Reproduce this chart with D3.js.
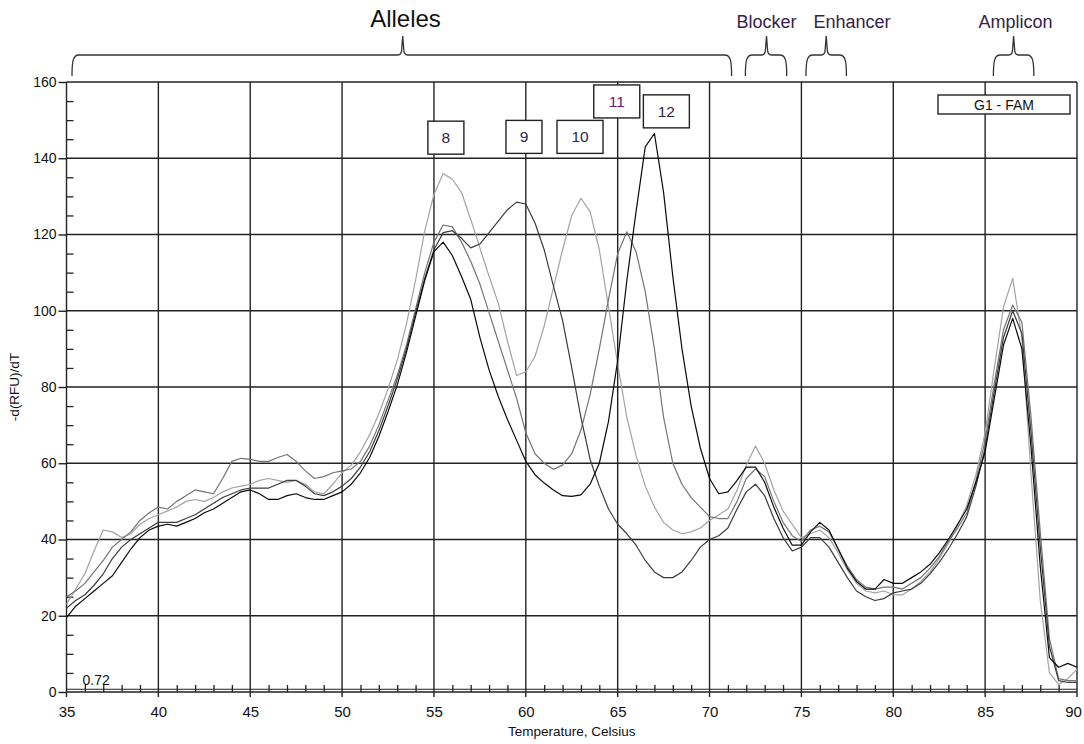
<!DOCTYPE html>
<html>
<head>
<meta charset="utf-8">
<script src="https://cdn.jsdelivr.net/npm/d3@7"></script>
<style>
  body { margin: 0; background: #fff; }
  svg { display: block; font-family: "Liberation Sans", Arial, sans-serif; }
</style>
</head>
<body>
<svg width="1084" height="744"></svg>
<script>
// melt steps, Celsius
const temps = [
  35, 35.5, 36, 36.5, 37, 37.5, 38, 38.5, 39, 39.5,
  40, 40.5, 41, 41.5, 42, 42.5, 43, 43.5, 44, 44.5,
  45, 45.5, 46, 46.5, 47, 47.5, 48, 48.5, 49, 49.5,
  50, 50.5, 51, 51.5, 52, 52.5, 53, 53.5, 54, 54.5,
  55, 55.5, 56, 56.5, 57, 57.5, 58, 58.5, 59, 59.5,
  60, 60.5, 61, 61.5, 62, 62.5, 63, 63.5, 64, 64.5,
  65, 65.5, 66, 66.5, 67, 67.5, 68, 68.5, 69, 69.5,
  70, 70.5, 71, 71.5, 72, 72.5, 73, 73.5, 74, 74.5,
  75, 75.5, 76, 76.5, 77, 77.5, 78, 78.5, 79, 79.5,
  80, 80.5, 81, 81.5, 82, 82.5, 83, 83.5, 84, 84.5,
  85, 85.5, 86, 86.5, 87, 87.5, 88, 88.5, 89, 89.5,
  90,
];

// -d(RFU)/dT for each sample (alleles 8/12, 8/9, 8/10, 8/11)
const sample8_12 = [
  19.5, 22.5, 24.5, 26.5, 28.5, 30.5, 34, 37.5, 40.5, 42.5,
  43.5, 44, 43.5, 44.5, 45.5, 47, 48, 49.5, 51, 52.5,
  53, 52, 50.5, 50.5, 51.5, 52, 51, 50.5, 50.5, 51.5,
  52.5, 54.5, 57.5, 61.5, 67, 73.5, 80.5, 89, 98.5, 108,
  115.5, 118, 114.5, 109, 103, 93, 84.5, 77.5, 71.5, 66,
  60.5, 57, 54.8, 53, 51.5, 51.3, 51.7, 54.5, 60, 71,
  87, 108, 126, 143, 146.5, 131, 109, 90, 75, 64,
  56, 52, 52.5, 55.5, 59, 59, 55, 48.5, 43, 38.5,
  38.5, 42, 44.5, 42.5, 37.5, 32.5, 29, 27, 27, 29.5,
  28.5, 28.5, 30, 31.5, 33.5, 36.5, 40, 44, 48, 55,
  63, 77, 91, 98, 90, 64, 33, 9, 6.5, 7.5,
  6.5,
];
const sample8_9 = [
  22, 24, 25.5, 28, 31, 35, 38, 40, 41.5, 43,
  44.5, 44.5, 44.5, 45.5, 46.5, 48, 49.5, 51, 52, 53,
  53.5, 53.5, 53.5, 54.5, 55.5, 55.5, 54, 52, 51.5, 52.5,
  54, 56, 59, 63, 68.5, 75, 82, 90, 99.5, 108.5,
  116, 120.5, 121, 119, 116.5, 117.5, 120.5, 123.5, 126.5, 128.5,
  128, 123, 116, 106.5, 97.5, 85, 72, 61, 54, 48,
  44, 41.5, 38.5, 34.5, 31.5, 30, 30, 31.5, 34.5, 38,
  40, 41, 43, 48, 52.5, 54.5, 51.5, 45.5, 40.5, 37,
  38, 40.5, 40.5, 38, 34, 30, 26.5, 25, 24, 24.5,
  26, 26.5, 27, 28.5, 31, 34, 37.5, 41.5, 46, 54,
  64, 79, 93, 100, 94, 68, 38, 12, 3, 2.5,
  2.5,
];
const sample8_10 = [
  23, 27, 31, 37, 42.5, 42, 40.5, 41.5, 44, 45.5,
  46.5, 47.5, 48.5, 50, 50.5, 50, 51, 52.5, 53.5, 54,
  54.5, 55.5, 56, 55.5, 55, 55.5, 54.5, 52.5, 52, 54.5,
  57.5, 59.5, 63, 67.5, 73, 79.5, 87, 96.5, 108, 121,
  130.5, 136, 134.5, 131, 124, 116.5, 109, 102, 92, 83,
  84, 88, 96, 106, 116, 125, 129.5, 126, 116, 101,
  86, 72, 62, 54, 48.5, 44.5, 42.5, 41.5, 42, 43,
  45, 46.5, 48, 53, 59.5, 64.5, 60, 53, 47.5, 44,
  40.5, 41.5, 42.5, 40.5, 36.5, 32, 28.5, 26.5, 26, 26.5,
  25.5, 25.5, 27, 29, 31.5, 35, 39, 43.5, 49, 57,
  68, 85, 101, 108.5, 93, 57, 24, 5, 2, 3.5,
  6,
];
const sample8_11 = [
  25, 26.5, 28.5, 31.5, 34.5, 38, 40, 42, 45, 47,
  48.5, 48, 50, 51.5, 53, 52.5, 52, 56, 60.5, 61.3,
  61, 60.5, 60.5, 61.5, 62.3, 60.5, 58, 56, 56.5, 57.5,
  58, 58.5, 60.5, 64.5, 70, 76.5, 83, 91, 100.5, 110,
  118, 122.5, 122, 118, 113, 107, 99.5, 92, 84.5, 77,
  68, 62.5, 60, 58.4, 59.5, 62.5, 68.7, 78, 90, 103,
  115, 120.7, 115.5, 105, 90, 72, 60, 54.5, 51, 48.5,
  46, 45.5, 45.5, 50, 56, 58.5, 56.5, 50, 44.5, 41,
  39.5, 42.5, 43.5, 42, 37.5, 33, 29.5, 27.5, 27, 27.5,
  27.5, 27, 28.5, 30, 32.5, 35.5, 39.5, 43, 47, 55.5,
  66, 81, 95, 101.5, 97, 72, 42, 14, 3.5, 3,
  3,
];

const samples = [sample8_10, sample8_11, sample8_9, sample8_12];
const sampleColors = ["#a3a3a3", "#747474", "#3c3c3c", "#0a0a0a"];

// axis ticks
const xTicks = [35, 40, 45, 50, 55, 60, 65, 70, 75, 80, 85, 90];
const yTicks = [0, 20, 40, 60, 80, 100, 120, 140, 160];
const threshold = 0.72;

// allele peak labels (temperature, value of the box centre)
const alleleNames = ["8", "9", "10", "11", "12"];
const alleleTemps = [55.65, 59.9, 62.95, 64.95, 67.65];
const alleleValues = [145.4, 145.6, 145.6, 154.9, 152.3];

// regions marked with braces above the plot
const regionNames = ["Alleles", "Blocker", "Enhancer", "Amplicon"];
const regionFrom = [35.3, 71.95, 75.25, 85.45];
const regionTo = [71.2, 74.2, 77.45, 87.65];
const regionTip = [53.3, 73.1, 76.35, 86.55];
const regionLabelAt = [53.45, 73.1, 77.75, 86.65];

const legendLabel = "G1 - FAM";

drawChart();

function drawChart() {
  const svg = d3.select("svg");
  const ink = "#222";

  const x = d3.scaleLinear().domain([35, 90]).range([66.5, 1077]);
  const y = d3.scaleLinear().domain([0, 160]).range([692, 82]);

  // grid
  svg.append("g")
    .selectAll("line")
    .data(xTicks)
    .join("line")
    .attr("x1", (d) => x(d))
    .attr("x2", (d) => x(d))
    .attr("y1", y(160))
    .attr("y2", y(0) + 5)
    .attr("stroke", ink)
    .attr("stroke-width", 1.4);

  svg.append("g")
    .selectAll("line")
    .data(yTicks)
    .join("line")
    .attr("x1", x(35))
    .attr("x2", x(90))
    .attr("y1", (d) => y(d))
    .attr("y2", (d) => y(d))
    .attr("stroke", ink)
    .attr("stroke-width", 1.4);

  // threshold line just above zero
  svg.append("line")
    .attr("x1", x(35))
    .attr("x2", x(90))
    .attr("y1", y(threshold))
    .attr("y2", y(threshold))
    .attr("stroke", ink)
    .attr("stroke-width", 1);

  svg.append("text")
    .attr("x", x(35) + 16)
    .attr("y", y(threshold) - 4)
    .attr("font-size", 14)
    .attr("fill", "#111")
    .text(threshold);

  // y axis with labels
  const yAxis = svg.append("g")
    .attr("transform", `translate(${x(35)},0)`)
    .call(d3.axisLeft(y).tickValues(yTicks).tickSize(8).tickPadding(2));
  yAxis.select(".domain").remove();
  yAxis.selectAll("line").attr("stroke", ink).attr("stroke-width", 1.4);
  yAxis.selectAll("text")
    .attr("font-size", 14)
    .attr("font-family", "Liberation Sans, Arial, sans-serif")
    .attr("fill", "#111");

  // minor y ticks, every 5 units
  const yMinor = d3.range(5, 160, 5).filter((d) => d % 20 !== 0);
  const yMinorAxis = svg.append("g")
    .attr("transform", `translate(${x(35)},0)`)
    .call(d3.axisRight(y).tickValues(yMinor).tickSize(7).tickFormat(""));
  yMinorAxis.select(".domain").remove();
  yMinorAxis.selectAll("line").attr("stroke", ink).attr("stroke-width", 1.3);

  // x axis labels
  const xAxis = svg.append("g")
    .attr("transform", `translate(0,${y(0)})`)
    .call(d3.axisBottom(x).tickValues(xTicks).tickSize(5).tickPadding(9));
  xAxis.select(".domain").remove();
  xAxis.selectAll("line").remove();
  xAxis.selectAll("text")
    .attr("font-size", 15)
    .attr("font-family", "Liberation Sans, Arial, sans-serif")
    .attr("fill", "#111");
  // keep the last label inside the page
  xAxis.selectAll("text").filter((d) => d === 90).attr("dx", -4);

  // minor x ticks, every degree
  const xMinor = d3.range(36, 90, 1).filter((d) => d % 5 !== 0);
  const xMinorAxis = svg.append("g")
    .attr("transform", `translate(0,${y(0)})`)
    .call(d3.axisTop(x).tickValues(xMinor).tickSize(7).tickFormat(""));
  xMinorAxis.select(".domain").remove();
  xMinorAxis.selectAll("line").attr("stroke", ink).attr("stroke-width", 1.3);

  // axis titles
  svg.append("text")
    .attr("x", (x(35) + x(90)) / 2)
    .attr("y", 736)
    .attr("text-anchor", "middle")
    .attr("font-size", 13.5)
    .attr("fill", "#111")
    .text("Temperature, Celsius");

  svg.append("text")
    .attr("transform", `translate(19,${(y(0) + y(160)) / 2}) rotate(-90)`)
    .attr("text-anchor", "middle")
    .attr("font-size", 13.5)
    .attr("fill", "#111")
    .text("-d(RFU)/dT");

  // melt curves
  const line = d3.line()
    .x((d, i) => x(temps[i]))
    .y((d) => y(d));

  svg.append("g")
    .selectAll("path")
    .data(samples)
    .join("path")
    .attr("d", line)
    .attr("fill", "none")
    .attr("stroke", (d, i) => sampleColors[i])
    .attr("stroke-width", 1.2)
    .attr("stroke-linejoin", "round");

  // allele boxes
  const boxes = svg.append("g")
    .selectAll("g")
    .data(alleleNames)
    .join("g")
    .attr("transform", (d, i) => `translate(${x(alleleTemps[i])},${y(alleleValues[i])})`);

  boxes.append("rect")
    .attr("x", (d) => (d.length > 1 ? -23 : -18))
    .attr("y", -16.5)
    .attr("width", (d) => (d.length > 1 ? 46 : 36))
    .attr("height", 33)
    .attr("fill", "#fff")
    .attr("stroke", ink)
    .attr("stroke-width", 1.4);

  boxes.append("text")
    .attr("text-anchor", "middle")
    .attr("dy", "0.36em")
    .attr("font-size", 15.5)
    .attr("fill", (d) => (d === "11" ? "#5a2278" : "#2c2450"))
    .text((d) => d);

  // legend box
  const legend = svg.append("g").attr("transform", `translate(${x(90) - 139},95)`);
  legend.append("rect")
    .attr("width", 132)
    .attr("height", 19)
    .attr("fill", "#fff")
    .attr("stroke", ink)
    .attr("stroke-width", 1.4);
  legend.append("text")
    .attr("x", 66)
    .attr("y", 14.5)
    .attr("text-anchor", "middle")
    .attr("font-size", 14)
    .attr("fill", "#111")
    .text(legendLabel);

  // braces above the plot
  function brace(x1, x2, xc) {
    const yEnd = 76, yH = 55, yTip = 36;
    return `M${x1},${yEnd} C${x1},${yH + 6} ${x1 + 1},${yH} ${x1 + 7},${yH}` +
      ` L${xc - 5},${yH} Q${xc - 1},${yH} ${xc - 1},${yH - 6} L${xc},${yTip}` +
      ` L${xc + 1},${yH - 6} Q${xc + 1},${yH} ${xc + 5},${yH}` +
      ` L${x2 - 7},${yH} C${x2 - 1},${yH} ${x2},${yH + 6} ${x2},${yEnd}`;
  }

  svg.append("g")
    .selectAll("path")
    .data(regionNames)
    .join("path")
    .attr("d", (d, i) => brace(x(regionFrom[i]), x(regionTo[i]), x(regionTip[i])))
    .attr("fill", "none")
    .attr("stroke", "#333")
    .attr("stroke-width", 1.3);

  svg.append("g")
    .selectAll("text")
    .data(regionNames)
    .join("text")
    .attr("x", (d, i) => x(regionLabelAt[i]))
    .attr("y", (d, i) => (i === 0 ? 27 : 28))
    .attr("text-anchor", "middle")
    .attr("font-size", (d, i) => (i === 0 ? 24 : 18))
    .attr("fill", (d, i) => (i === 0 ? "#111" : "#35224c"))
    .text((d) => d);
}
</script>
</body>
</html>
